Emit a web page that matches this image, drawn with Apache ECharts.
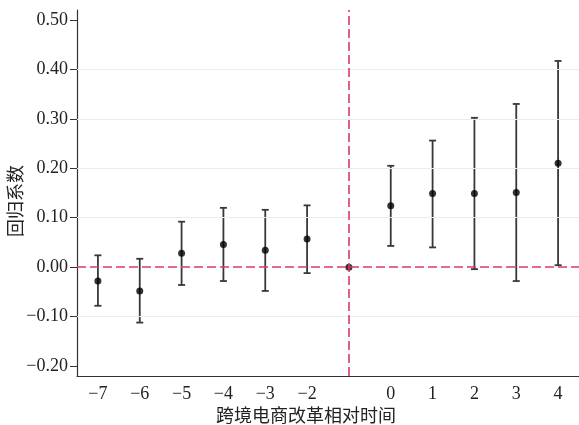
<!DOCTYPE html>
<html>
<head>
<meta charset="utf-8">
<script src="https://cdn.jsdelivr.net/npm/echarts@6/dist/echarts.min.js"></script>
<style>html,body{margin:0;padding:0;background:#fff}#c{width:579px;height:425px}</style>
</head>
<body>
<div id="c"></div>
<script>
var categories = ['-7','-6','-5','-4','-3','-2','-1','0','1','2','3','4'];
var coef  = [-0.028, -0.048, 0.028, 0.046, 0.034, 0.057, 0.000, 0.124, 0.149, 0.149, 0.151, 0.210];
var lower = [-0.078, -0.112, -0.036, -0.028, -0.048, -0.012, null, 0.043, 0.040, -0.004, -0.028, 0.004];
var upper = [0.024, 0.017, 0.092, 0.120, 0.116, 0.125, null, 0.205, 0.256, 0.302, 0.330, 0.417];
var yTicks = [-0.2, -0.1, 0.0, 0.1, 0.2, 0.3, 0.4, 0.5];
var gridValues = [-0.1, 0.1, 0.2, 0.3, 0.4];
var baseCategory = '-1';

var SERIF = "'Liberation Serif', 'Times New Roman', 'Noto Sans CJK SC', serif";
var RED = '#d93a66';
function fmtNum(s){ return String(s).replace('-', '\u2212'); }

var barData = categories.map(function(c, i){ return [i, lower[i], upper[i]]; }).filter(function(d){ return d[1] !== null; });

var chart = echarts.init(document.getElementById('c'));
chart.setOption({
  animation: false,
  backgroundColor: '#fff',
  grid: { left: 77, right: 0, top: 10, bottom: 49, containLabel: false, outerBoundsMode: 'none' },
  xAxis: {
    type: 'category',
    data: categories,
    boundaryGap: true,
    name: '跨境电商改革相对时间',
    nameLocation: 'middle',
    nameGap: 32,
    nameMoveOverlap: false,
    nameTextStyle: { fontFamily: SERIF, fontSize: 18, color: '#222', padding: [0, 44, 0, 0] },
    axisLine: { onZero: false, lineStyle: { color: '#333', width: 1.2 } },
    axisTick: { alignWithLabel: true, length: 6, lineStyle: { color: '#333' } },
    axisLabel: {
      margin: 9, fontFamily: SERIF, fontSize: 18, color: '#222',
      formatter: function(v){ return v === baseCategory ? '' : fmtNum(v); }
    },
    splitLine: { show: false }
  },
  yAxis: {
    type: 'value',
    min: -0.22,
    max: 0.52,
    name: '回归系数',
    nameLocation: 'middle',
    nameRotate: 90,
    nameGap: 51,
    nameMoveOverlap: false,
    nameTextStyle: { fontFamily: SERIF, fontSize: 18, color: '#222', padding: [0, 16, 0, 0] },
    axisLine: { show: true, onZero: false, lineStyle: { color: '#333', width: 1.2 } },
    axisTick: { show: true, length: 7, customValues: yTicks, lineStyle: { color: '#333' } },
    axisLabel: {
      margin: 9, fontFamily: SERIF, fontSize: 18, color: '#222',
      customValues: yTicks,
      formatter: function(v){ return fmtNum(v.toFixed(2)); }
    },
    splitLine: { show: false }
  },
  series: [
    {
      type: 'line',
      data: [],
      silent: true,
      z: 1,
      markLine: {
        silent: true, symbol: 'none', label: { show: false },
        lineStyle: { color: '#e6eef1', type: 'solid', width: 1 },
        data: gridValues.map(function(v){ return { yAxis: v }; })
      }
    },
    {
      type: 'line',
      data: [],
      silent: true,
      z: 2,
      markLine: {
        silent: true, symbol: 'none', label: { show: false },
        lineStyle: { color: RED, type: [9, 4], width: 1.6 },
        data: [{ yAxis: 0 }, { xAxis: baseCategory }]
      }
    },
    {
      type: 'custom',
      z: 3,
      data: barData,
      renderItem: function(params, api){
        var x = api.value(0);
        var lo = api.coord([x, api.value(1)]);
        var hi = api.coord([x, api.value(2)]);
        var hw = 3.5;
        var st = { stroke: '#383838', lineWidth: 1.8 };
        return {
          type: 'group',
          children: [
            { type: 'line', shape: { x1: hi[0], y1: hi[1], x2: lo[0], y2: lo[1] }, style: st },
            { type: 'line', shape: { x1: hi[0]-hw, y1: hi[1], x2: hi[0]+hw, y2: hi[1] }, style: st },
            { type: 'line', shape: { x1: lo[0]-hw, y1: lo[1], x2: lo[0]+hw, y2: lo[1] }, style: st }
          ]
        };
      }
    },
    {
      type: 'scatter',
      z: 4,
      symbol: 'circle',
      symbolSize: 7,
      itemStyle: { color: '#000' },
      data: coef
    }
  ]
});
</script>
</body>
</html>
